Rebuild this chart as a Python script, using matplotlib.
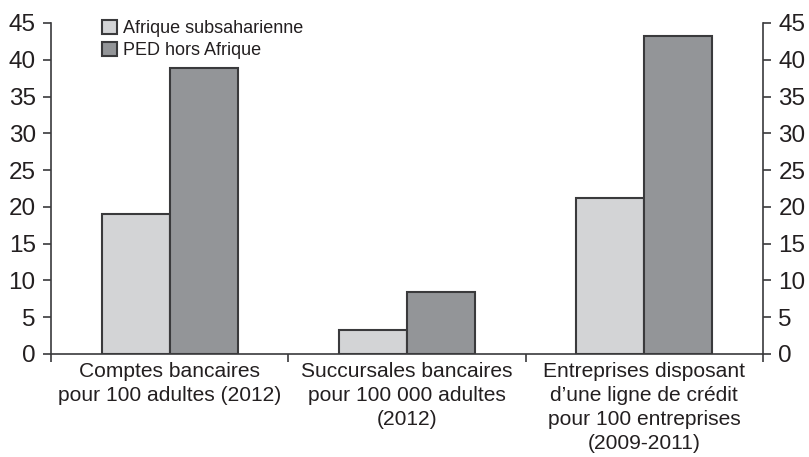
import matplotlib
matplotlib.use("Agg")
import matplotlib.pyplot as plt
import numpy as np

plt.rcParams['font.family'] = ['Liberation Sans', 'DejaVu Sans']

categories = ["Comptes bancaires\npour 100 adultes (2012)",
              "Succursales bancaires\npour 100 000 adultes\n(2012)",
              "Entreprises disposant\nd\u2019une ligne de crédit\npour 100 entreprises\n(2009-2011)"]
series_names = ["Afrique subsaharienne", "PED hors Afrique"]
afrique = [19.0, 3.3, 21.2]
ped = [38.9, 8.4, 43.2]
yticks = [0, 5, 10, 15, 20, 25, 30, 35, 40, 45]

W, H = 809, 457
fig = plt.figure(figsize=(W/100, H/100), dpi=100)
ax = fig.add_axes([51/W, (H-354)/H, (763-51)/W, (354-23)/H])

x = np.arange(len(categories))
bw = 0.286
ax.bar(x - bw/2, afrique, bw, color='#d3d4d6', edgecolor='#3a3a3c', linewidth=1.5, label=series_names[0])
ax.bar(x + bw/2, ped, bw, color='#939598', edgecolor='#3a3a3c', linewidth=1.5, label=series_names[1])

ax.set_xlim(-0.5, 2.5)
ax.set_ylim(0, 45)
ax.set_yticks(yticks)
ax.set_xticks(x)
ax.set_xticklabels(categories, fontsize=15.1, linespacing=1.33)
ax.tick_params(axis='x', length=0, pad=6)
ax.set_xticks([-0.5, 0.5, 1.5, 2.5], minor=True)
ax.tick_params(axis='x', which='minor', length=6, direction='out', width=1.2, color='#3a3a3c')
ax.tick_params(axis='y', labelsize=17.5, length=6, width=1.2, color='#3a3a3c', labelcolor='#231f20',
               right=True, labelright=True, pad=5)
for s in ['left', 'right', 'bottom']:
    ax.spines[s].set_color('#3a3a3c')
    ax.spines[s].set_linewidth(1.2)
ax.spines['top'].set_visible(False)
for lbl in ax.get_xticklabels():
    lbl.set_color('#231f20')

leg = ax.legend(loc='upper left', bbox_to_anchor=(0.062, 1.03), frameon=False, fontsize=13,
                handlelength=0.8, handleheight=0.8, handletextpad=0.35, labelspacing=0.25,
                borderaxespad=0)
for t in leg.get_texts():
    t.set_color('#231f20')

fig.savefig("out.png", dpi=100)
